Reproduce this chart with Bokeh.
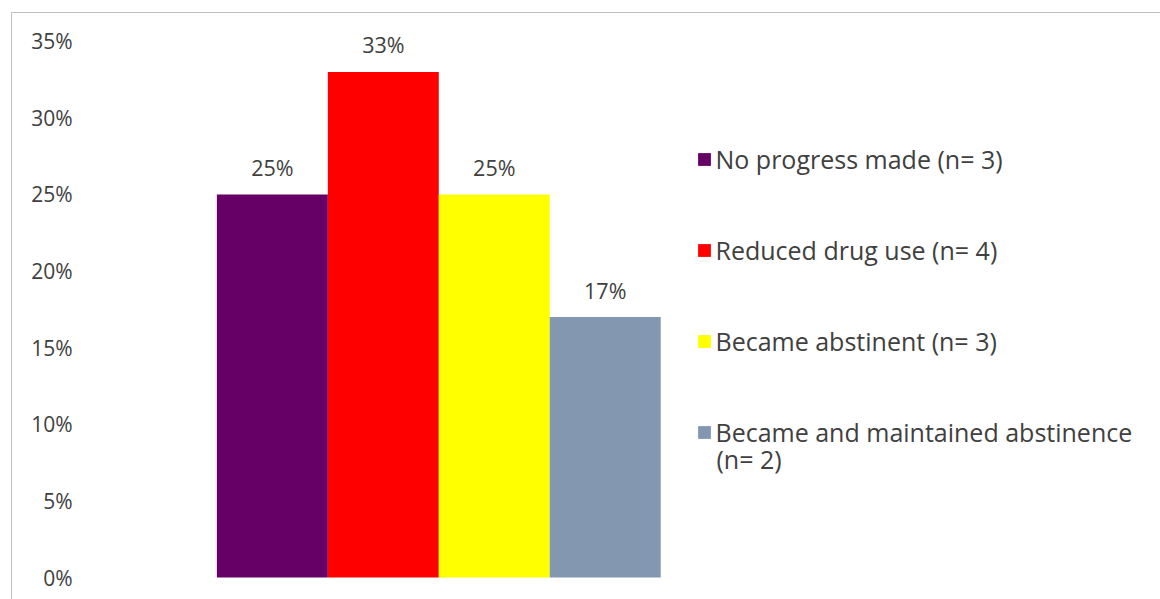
from bokeh.plotting import figure
from bokeh.models import (Range1d, FixedTicker, NumeralTickFormatter, Legend, LegendItem,
                          ColumnDataSource, Label)
from bokeh.embed import file_html
from bokeh.resources import INLINE
from bokeh.core.properties import value

categories = ["No progress made (n= 3)", "Reduced drug use (n= 4)",
              "Became abstinent (n= 3)", "Became and maintained abstinence\n(n= 2)"]
shares = [0.25, 0.33, 0.25, 0.17]
colors = ["#660066", "#FF0000", "#FFFF00", "#8497B0"]
y_ticks = [0.0, 0.05, 0.10, 0.15, 0.20, 0.25, 0.30, 0.35]

FONT = "Open Sans"
TXT = "#404040"

p = figure(width=1149, height=587, output_backend="svg", toolbar_location=None,
           x_range=Range1d(-1.7201, 8.0135), y_range=Range1d(-0.0150, 0.3681),
           x_axis_location=None, min_border_left=69, min_border_right=0,
           min_border_top=0, min_border_bottom=0)
p.margin = (12, 0, 0, 11)
p.styles = {"border-left": "1px solid #bfbfbf", "border-top": "1px solid #bfbfbf",
            "box-sizing": "border-box"}
p.outline_line_color = None
p.grid.visible = False
p.background_fill_color = "white"
p.border_fill_color = "white"

ya = p.yaxis[0]
ya.ticker = FixedTicker(ticks=y_ticks)
ya.formatter = NumeralTickFormatter(format="0%")
ya.axis_line_color = None
ya.major_tick_line_color = None
ya.minor_tick_line_color = None
ya.major_label_standoff = 3
ya.major_label_text_font = FONT
ya.major_label_text_font_size = "21px"
ya.major_label_text_color = TXT

xs = list(range(len(categories)))
items = []
for i, (cat, v, c) in enumerate(zip(categories, shares, colors)):
    src = ColumnDataSource(dict(x=[xs[i]], top=[v], lab=[f"{round(v*100)}%"]))
    r = p.vbar(x="x", top="top", bottom=0, width=1.0, source=src,
               fill_color=c, line_color=None)
    p.text(x="x", y="top", text="lab", source=src, text_align="center",
           text_baseline="alphabetic", y_offset=-27, text_font=value(FONT),
           text_font_size="21.5px", text_color=TXT)
    items.append(LegendItem(label=cat.split("\n")[0], renderers=[r]))

legend = Legend(items=items, location=(614.5, 151.5), orientation="vertical",
                glyph_width=16, glyph_height=16, label_standoff=4,
                label_text_font=FONT, label_text_font_size="25px",
                label_text_color=TXT, label_height=24, spacing=57,
                padding=0, margin=0, border_line_color=None,
                background_fill_alpha=0)
p.add_layout(legend, "center")

# wrapped continuation of the last legend entry
cont = Label(x=635, y=142, x_units="screen", y_units="screen",
             text=categories[-1].split("\n")[1], text_font=FONT,
             text_font_size="25px", text_color=TXT, text_baseline="middle")
p.add_layout(cont)

open("out.html", "w").write(file_html(p, INLINE))
